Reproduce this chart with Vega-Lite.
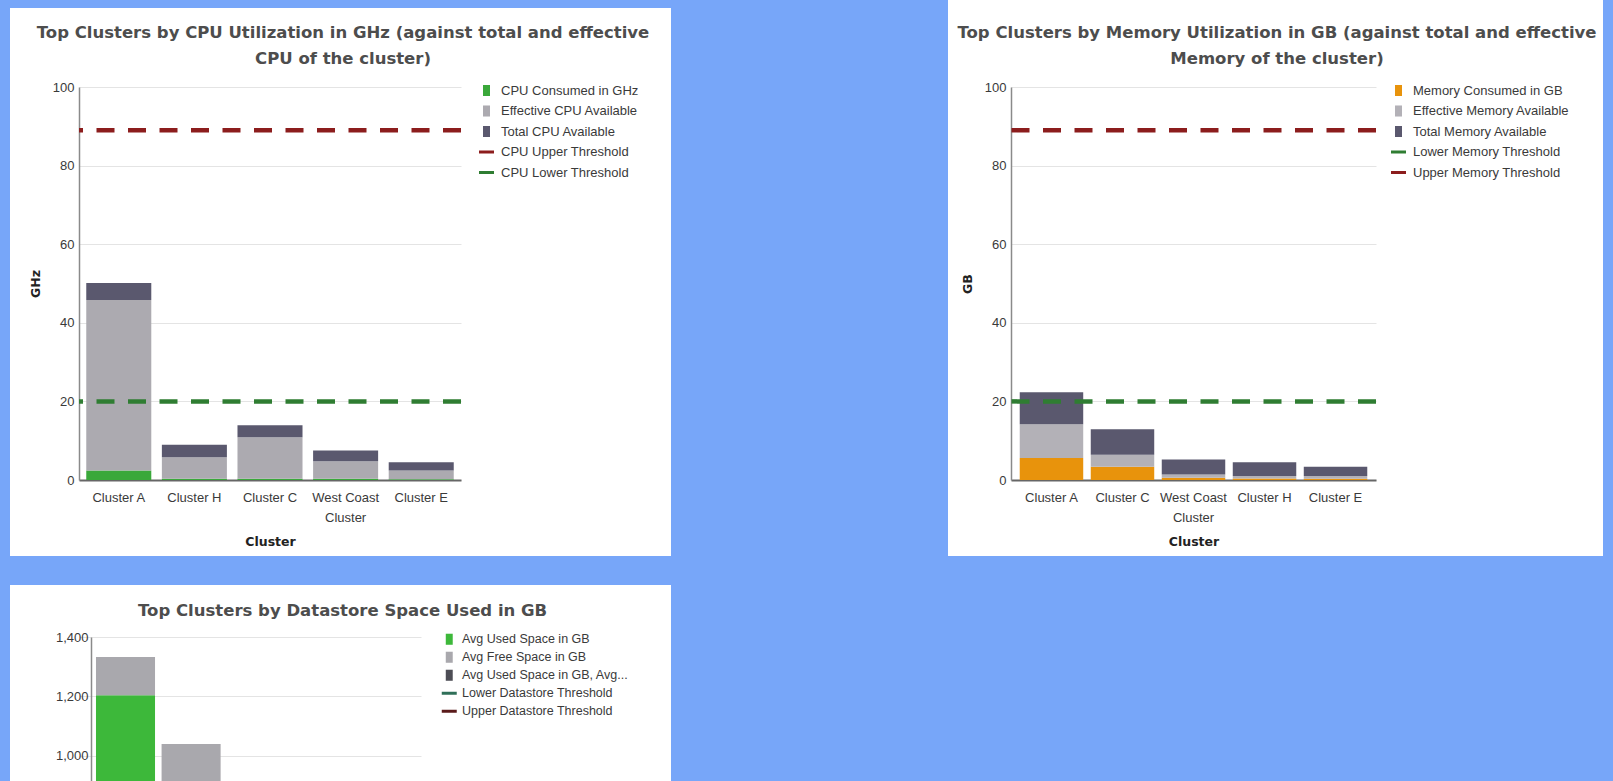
{
  "$schema": "https://vega.github.io/schema/vega-lite/v6.json",
  "padding": 0,
  "background": "white",
  "columns": 9,
  "spacing": 0,
  "bounds": "flush",
  "align": "each",
  "resolve": {
    "scale": {"color": "independent", "x": "independent", "y": "independent"},
    "legend": {"color": "independent"},
    "axis": {"x": "independent", "y": "independent"}
  },
  "datasets": {
    "none": [],
    "cpu": [
      {"cluster": "Cluster A", "series": "CPU Consumed in GHz", "ord": 1, "value": 2.4},
      {"cluster": "Cluster A", "series": "Effective CPU Available", "ord": 2, "value": 43.4},
      {"cluster": "Cluster A", "series": "Total CPU Available", "ord": 3, "value": 4.3},
      {"cluster": "Cluster H", "series": "CPU Consumed in GHz", "ord": 1, "value": 0.3},
      {"cluster": "Cluster H", "series": "Effective CPU Available", "ord": 2, "value": 5.5},
      {"cluster": "Cluster H", "series": "Total CPU Available", "ord": 3, "value": 3.2},
      {"cluster": "Cluster C", "series": "CPU Consumed in GHz", "ord": 1, "value": 0.3},
      {"cluster": "Cluster C", "series": "Effective CPU Available", "ord": 2, "value": 10.6},
      {"cluster": "Cluster C", "series": "Total CPU Available", "ord": 3, "value": 3.0},
      {"cluster": "West Coast Cluster", "series": "CPU Consumed in GHz", "ord": 1, "value": 0.3},
      {"cluster": "West Coast Cluster", "series": "Effective CPU Available", "ord": 2, "value": 4.5},
      {"cluster": "West Coast Cluster", "series": "Total CPU Available", "ord": 3, "value": 2.7},
      {"cluster": "Cluster E", "series": "CPU Consumed in GHz", "ord": 1, "value": 0.2},
      {"cluster": "Cluster E", "series": "Effective CPU Available", "ord": 2, "value": 2.2},
      {"cluster": "Cluster E", "series": "Total CPU Available", "ord": 3, "value": 2.1}
    ],
    "cpu_thr": [
      {"series": "CPU Upper Threshold", "value": 89},
      {"series": "CPU Lower Threshold", "value": 20}
    ],
    "mem": [
      {"cluster": "Cluster A", "series": "Memory Consumed in GB", "ord": 1, "value": 5.6},
      {"cluster": "Cluster A", "series": "Effective Memory Available", "ord": 2, "value": 8.6},
      {"cluster": "Cluster A", "series": "Total Memory Available", "ord": 3, "value": 8.1},
      {"cluster": "Cluster C", "series": "Memory Consumed in GB", "ord": 1, "value": 3.4},
      {"cluster": "Cluster C", "series": "Effective Memory Available", "ord": 2, "value": 3.0},
      {"cluster": "Cluster C", "series": "Total Memory Available", "ord": 3, "value": 6.5},
      {"cluster": "West Coast Cluster", "series": "Memory Consumed in GB", "ord": 1, "value": 0.6},
      {"cluster": "West Coast Cluster", "series": "Effective Memory Available", "ord": 2, "value": 0.8},
      {"cluster": "West Coast Cluster", "series": "Total Memory Available", "ord": 3, "value": 3.8},
      {"cluster": "Cluster H", "series": "Memory Consumed in GB", "ord": 1, "value": 0.4},
      {"cluster": "Cluster H", "series": "Effective Memory Available", "ord": 2, "value": 0.6},
      {"cluster": "Cluster H", "series": "Total Memory Available", "ord": 3, "value": 3.5},
      {"cluster": "Cluster E", "series": "Memory Consumed in GB", "ord": 1, "value": 0.3},
      {"cluster": "Cluster E", "series": "Effective Memory Available", "ord": 2, "value": 0.7},
      {"cluster": "Cluster E", "series": "Total Memory Available", "ord": 3, "value": 2.4}
    ],
    "mem_thr": [
      {"series": "Lower Memory Threshold", "value": 20},
      {"series": "Upper Memory Threshold", "value": 89}
    ],
    "ds": [
      {"cluster": "Cluster A", "series": "Avg Used Space in GB", "ord": 1, "value": 1204},
      {"cluster": "Cluster A", "series": "Avg Free Space in GB", "ord": 2, "value": 129},
      {"cluster": "Cluster C", "series": "Avg Used Space in GB", "ord": 1, "value": 880},
      {"cluster": "Cluster C", "series": "Avg Free Space in GB", "ord": 2, "value": 160}
    ]
  },
  "concat": [
    {"width": 10, "height": 8, "data": {"name": "none"}, "mark": "text", "encoding": {}, "view": {"fill": "#77a6f9"}},
    {"width": 69, "height": 8, "data": {"name": "none"}, "mark": "text", "encoding": {}, "view": {"fill": "#77a6f9"}},
    {"width": 382, "height": 8, "data": {"name": "none"}, "mark": "text", "encoding": {}, "view": {"fill": "#77a6f9"}},
    {"width": 210, "height": 8, "data": {"name": "none"}, "mark": "text", "encoding": {}, "view": {"fill": "#77a6f9"}},
    {"width": 277, "height": 8, "data": {"name": "none"}, "mark": "text", "encoding": {}, "view": {"fill": "#77a6f9"}},
    {"width": 63, "height": 8, "data": {"name": "none"}, "mark": "text", "encoding": {}},
    {"width": 365, "height": 8, "data": {"name": "none"}, "mark": "text", "encoding": {}},
    {"width": 227, "height": 8, "data": {"name": "none"}, "mark": "text", "encoding": {}},
    {"width": 10, "height": 8, "data": {"name": "none"}, "mark": "text", "encoding": {}, "view": {"fill": "#77a6f9"}},

    {"width": 10, "height": 79, "data": {"name": "none"}, "mark": "text", "encoding": {}, "view": {"fill": "#77a6f9"}},
    {"width": 69, "height": 79, "data": {"name": "none"}, "mark": "text", "encoding": {}},
    {"width": 382, "height": 79, "data": {"name": "none"}, "mark": "text", "encoding": {}},
    {"width": 210, "height": 79, "data": {"name": "none"}, "mark": "text", "encoding": {}},
    {"width": 277, "height": 79, "data": {"name": "none"}, "mark": "text", "encoding": {}, "view": {"fill": "#77a6f9"}},
    {"width": 63, "height": 79, "data": {"name": "none"}, "mark": "text", "encoding": {}},
    {"width": 365, "height": 79, "data": {"name": "none"}, "mark": "text", "encoding": {}},
    {"width": 227, "height": 79, "data": {"name": "none"}, "mark": "text", "encoding": {}},
    {"width": 10, "height": 79, "data": {"name": "none"}, "mark": "text", "encoding": {}, "view": {"fill": "#77a6f9"}},

    {"width": 10, "height": 393, "data": {"name": "none"}, "mark": "text", "encoding": {}, "view": {"fill": "#77a6f9"}},
    {"width": 69, "height": 393, "data": {"name": "none"}, "mark": "text", "encoding": {}},
    {
      "width": 382, "height": 393,
      "title": {"text": ["Top Clusters by CPU Utilization in GHz (against total and effective", "CPU of the cluster)"], "frame": "group", "dx": 73, "offset": 14},
      "encoding": {
        "color": {
          "field": "series", "type": "nominal",
          "scale": {"domain": ["CPU Consumed in GHz", "Effective CPU Available", "Total CPU Available", "CPU Upper Threshold", "CPU Lower Threshold"],
                    "range": ["#3aa83a", "#acaab0", "#5a586e", "#8c1d1d", "#2f7d32"]},
          "legend": {
            "title": null, "orient": "none", "legendX": 401, "legendY": -3, "padding": 0,
            "labelOffset": 8, "rowPadding": 6.5, "symbolSize": 144, "labelLimit": 300,
            "encode": {"symbols": {"update": {
              "shape": {"signal": "indexof(datum.value, 'Threshold') >= 0 ? 'M-1.25,-0.25H1.25V0.25H-1.25Z' : 'M-0.58,-0.92H0.58V0.92H-0.58Z'"},
              "fill": {"signal": "datum.value === 'CPU Consumed in GHz' ? '#3a9c3a' : datum.value === 'Effective CPU Available' ? '#b3b3b3' : datum.value === 'Total CPU Available' ? '#4e4c60' : datum.value === 'CPU Upper Threshold' ? '#7a1a1a' : '#2f7d32'"},
              "stroke": {"value": "transparent"}, "strokeWidth": {"value": 0}, "opacity": {"value": 1}
            }}}
          }
        }
      },
      "layer": [
        {
          "data": {"name": "cpu"},
          "mark": {"type": "bar"},
          "encoding": {
            "x": {"field": "cluster", "type": "nominal",
                  "sort": ["Cluster A", "Cluster H", "Cluster C", "West Coast Cluster", "Cluster E"],
                  "scale": {"paddingInner": 0.14, "paddingOuter": 0.096},
                  "axis": {"title": "Cluster", "labelAngle": 0, "labelPadding": 11, "labelLineHeight": 20,
                           "labelExpr": "datum.label === 'West Coast Cluster' ? ['West Coast', 'Cluster'] : datum.label",
                           "domainColor": "#666666", "domainWidth": 2, "titlePadding": 11}},
            "y": {"field": "value", "type": "quantitative", "stack": "zero", "title": "GHz",
                  "scale": {"domain": [0, 100], "nice": false},
                  "axis": {"values": [0, 20, 40, 60, 80, 100], "titlePadding": 10, "labelPadding": 5}},
            "order": {"field": "ord", "type": "quantitative"}
          }
        },
        {
          "data": {"name": "cpu_thr"},
          "mark": {"type": "rule", "strokeDash": [18, 13.5], "strokeWidth": 4.5},
          "encoding": {
            "y": {"field": "value", "type": "quantitative", "title": "GHz",
                  "scale": {"domain": [0, 100], "nice": false},
                  "axis": {"values": [0, 20, 40, 60, 80, 100], "titlePadding": 10, "labelPadding": 5}}
          }
        }
      ]
    },
    {"width": 210, "height": 393, "data": {"name": "none"}, "mark": "text", "encoding": {}},
    {"width": 277, "height": 393, "data": {"name": "none"}, "mark": "text", "encoding": {}, "view": {"fill": "#77a6f9"}},
    {"width": 63, "height": 393, "data": {"name": "none"}, "mark": "text", "encoding": {}},
    {
      "width": 365, "height": 393,
      "title": {"text": ["Top Clusters by Memory Utilization in GB (against total and effective", "Memory of the cluster)"], "frame": "group", "dx": 83.5, "offset": 14},
      "encoding": {
        "color": {
          "field": "series", "type": "nominal",
          "scale": {"domain": ["Memory Consumed in GB", "Effective Memory Available", "Total Memory Available", "Lower Memory Threshold", "Upper Memory Threshold"],
                    "range": ["#e8930c", "#b3b1b7", "#5a586e", "#2f7d32", "#8c1d1d"]},
          "legend": {
            "title": null, "orient": "none", "legendX": 381, "legendY": -3, "padding": 0,
            "labelOffset": 8, "rowPadding": 6.5, "symbolSize": 144, "labelLimit": 300,
            "encode": {"symbols": {"update": {
              "shape": {"signal": "indexof(datum.value, 'Threshold') >= 0 ? 'M-1.25,-0.25H1.25V0.25H-1.25Z' : 'M-0.58,-0.92H0.58V0.92H-0.58Z'"},
              "fill": {"signal": "datum.value === 'Memory Consumed in GB' ? '#d99a1a' : datum.value === 'Effective Memory Available' ? '#b3b3b3' : datum.value === 'Total Memory Available' ? '#3e3e50' : datum.value === 'Lower Memory Threshold' ? '#2f6f3a' : '#7a1a1a'"},
              "stroke": {"value": "transparent"}, "strokeWidth": {"value": 0}, "opacity": {"value": 1}
            }}}
          }
        }
      },
      "layer": [
        {
          "data": {"name": "mem"},
          "mark": {"type": "bar"},
          "encoding": {
            "x": {"field": "cluster", "type": "nominal",
                  "sort": ["Cluster A", "Cluster C", "West Coast Cluster", "Cluster H", "Cluster E"],
                  "scale": {"paddingInner": 0.106, "paddingOuter": 0.123},
                  "axis": {"title": "Cluster", "labelAngle": 0, "labelPadding": 11, "labelLineHeight": 20,
                           "labelExpr": "datum.label === 'West Coast Cluster' ? ['West Coast', 'Cluster'] : datum.label",
                           "domainColor": "#666666", "domainWidth": 2, "titlePadding": 11}},
            "y": {"field": "value", "type": "quantitative", "stack": "zero", "title": "GB",
                  "scale": {"domain": [0, 100], "nice": false},
                  "axis": {"values": [0, 20, 40, 60, 80, 100], "titlePadding": 10, "labelPadding": 5}},
            "order": {"field": "ord", "type": "quantitative"}
          }
        },
        {
          "data": {"name": "mem_thr"},
          "mark": {"type": "rule", "strokeDash": [18, 13.5], "strokeWidth": 4.5},
          "encoding": {
            "y": {"field": "value", "type": "quantitative", "title": "GB",
                  "scale": {"domain": [0, 100], "nice": false},
                  "axis": {"values": [0, 20, 40, 60, 80, 100], "titlePadding": 10, "labelPadding": 5}}
          }
        }
      ]
    },
    {"width": 227, "height": 393, "data": {"name": "none"}, "mark": "text", "encoding": {}},
    {"width": 10, "height": 393, "data": {"name": "none"}, "mark": "text", "encoding": {}, "view": {"fill": "#77a6f9"}},

    {"width": 10, "height": 76, "data": {"name": "none"}, "mark": "text", "encoding": {}, "view": {"fill": "#77a6f9"}},
    {"width": 69, "height": 76, "data": {"name": "none"}, "mark": "text", "encoding": {}},
    {"width": 382, "height": 76, "data": {"name": "none"}, "mark": "text", "encoding": {}},
    {"width": 210, "height": 76, "data": {"name": "none"}, "mark": "text", "encoding": {}},
    {"width": 277, "height": 76, "data": {"name": "none"}, "mark": "text", "encoding": {}, "view": {"fill": "#77a6f9"}},
    {"width": 63, "height": 76, "data": {"name": "none"}, "mark": "text", "encoding": {}},
    {"width": 365, "height": 76, "data": {"name": "none"}, "mark": "text", "encoding": {}},
    {"width": 227, "height": 76, "data": {"name": "none"}, "mark": "text", "encoding": {}},
    {"width": 10, "height": 76, "data": {"name": "none"}, "mark": "text", "encoding": {}, "view": {"fill": "#77a6f9"}},

    {"width": 10, "height": 29, "data": {"name": "none"}, "mark": "text", "encoding": {}, "view": {"fill": "#77a6f9"}},
    {"width": 69, "height": 29, "data": {"name": "none"}, "mark": "text", "encoding": {}, "view": {"fill": "#77a6f9"}},
    {"width": 382, "height": 29, "data": {"name": "none"}, "mark": "text", "encoding": {}, "view": {"fill": "#77a6f9"}},
    {"width": 210, "height": 29, "data": {"name": "none"}, "mark": "text", "encoding": {}, "view": {"fill": "#77a6f9"}},
    {"width": 277, "height": 29, "data": {"name": "none"}, "mark": "text", "encoding": {}, "view": {"fill": "#77a6f9"}},
    {"width": 63, "height": 29, "data": {"name": "none"}, "mark": "text", "encoding": {}, "view": {"fill": "#77a6f9"}},
    {"width": 365, "height": 29, "data": {"name": "none"}, "mark": "text", "encoding": {}, "view": {"fill": "#77a6f9"}},
    {"width": 227, "height": 29, "data": {"name": "none"}, "mark": "text", "encoding": {}, "view": {"fill": "#77a6f9"}},
    {"width": 10, "height": 29, "data": {"name": "none"}, "mark": "text", "encoding": {}, "view": {"fill": "#77a6f9"}},

    {"width": 10, "height": 52, "data": {"name": "none"}, "mark": "text", "encoding": {}, "view": {"fill": "#77a6f9"}},
    {"width": 69, "height": 52, "data": {"name": "none"}, "mark": "text", "encoding": {}},
    {"width": 382, "height": 52, "data": {"name": "none"}, "mark": "text", "encoding": {}},
    {"width": 210, "height": 52, "data": {"name": "none"}, "mark": "text", "encoding": {}},
    {"width": 277, "height": 52, "data": {"name": "none"}, "mark": "text", "encoding": {}, "view": {"fill": "#77a6f9"}},
    {"width": 63, "height": 52, "data": {"name": "none"}, "mark": "text", "encoding": {}, "view": {"fill": "#77a6f9"}},
    {"width": 365, "height": 52, "data": {"name": "none"}, "mark": "text", "encoding": {}, "view": {"fill": "#77a6f9"}},
    {"width": 227, "height": 52, "data": {"name": "none"}, "mark": "text", "encoding": {}, "view": {"fill": "#77a6f9"}},
    {"width": 10, "height": 52, "data": {"name": "none"}, "mark": "text", "encoding": {}, "view": {"fill": "#77a6f9"}},

    {"width": 10, "height": 144, "data": {"name": "none"}, "mark": "text", "encoding": {}, "view": {"fill": "#77a6f9"}},
    {"width": 69, "height": 144, "data": {"name": "none"}, "mark": "text", "encoding": {}},
    {
      "width": 342, "height": 144,
      "title": {"text": "Top Clusters by Datastore Space Used in GB", "frame": "group", "dx": 92.6, "offset": 12},
      "data": {"name": "ds"},
      "mark": {"type": "bar", "clip": true},
      "encoding": {
        "x": {"field": "cluster", "type": "nominal",
              "scale": {"domain": ["Cluster A", "Cluster C", "West Coast Cluster", "Cluster H", "Cluster E"], "paddingInner": 0.1, "paddingOuter": 0.157, "align": 0.825},
              "axis": null},
        "y": {"field": "value", "type": "quantitative", "stack": "zero",
              "scale": {"domain": [915, 1400], "nice": false, "zero": false},
              "axis": {"values": [1000, 1200, 1400], "labelExpr": "format(datum.value, ',')", "title": null, "labelPadding": 3, "offset": -12}},
        "order": {"field": "ord", "type": "quantitative"},
        "color": {
          "field": "series", "type": "nominal",
          "scale": {"domain": ["Avg Used Space in GB", "Avg Free Space in GB", "Avg Used Space in GB, Avg...", "Lower Datastore Threshold", "Upper Datastore Threshold"],
                    "range": ["#3db83a", "#a9a8ad", "#4d4d55", "#2f6f58", "#5a1a1a"]},
          "legend": {
            "title": null, "orient": "none", "legendX": 364, "legendY": -4, "padding": 0,
            "labelOffset": 6.5, "rowPadding": 5, "symbolSize": 144, "labelLimit": 300, "labelFontSize": 12.5,
            "encode": {"symbols": {"update": {
              "shape": {"signal": "indexof(datum.value, 'Threshold') >= 0 ? 'M-1.25,-0.25H1.25V0.25H-1.25Z' : 'M-0.58,-0.92H0.58V0.92H-0.58Z'"},
              "fill": {"signal": "datum.value === 'Avg Used Space in GB' ? '#3a9c3a' : datum.value === 'Avg Free Space in GB' ? '#b3b3b3' : datum.value === 'Avg Used Space in GB, Avg...' ? '#454550' : datum.value === 'Lower Datastore Threshold' ? '#2f6f58' : '#5a1a1a'"},
              "stroke": {"value": "transparent"}, "strokeWidth": {"value": 0}, "opacity": {"value": 1}
            }}}
          }
        }
      }
    },
    {"width": 210, "height": 144, "data": {"name": "none"}, "mark": "text", "encoding": {}},
    {"width": 277, "height": 144, "data": {"name": "none"}, "mark": "text", "encoding": {}, "view": {"fill": "#77a6f9"}},
    {"width": 63, "height": 144, "data": {"name": "none"}, "mark": "text", "encoding": {}, "view": {"fill": "#77a6f9"}},
    {"width": 365, "height": 144, "data": {"name": "none"}, "mark": "text", "encoding": {}, "view": {"fill": "#77a6f9"}},
    {"width": 227, "height": 144, "data": {"name": "none"}, "mark": "text", "encoding": {}, "view": {"fill": "#77a6f9"}},
    {"width": 10, "height": 144, "data": {"name": "none"}, "mark": "text", "encoding": {}, "view": {"fill": "#77a6f9"}}
  ],
  "config": {
    "view": {"stroke": null},
    "font": "Liberation Sans",
    "axis": {"labelFont": "Liberation Sans", "labelFontSize": 13, "labelColor": "#3a3a3a",
             "titleFont": "DejaVu Sans", "titleFontSize": 12.5, "titleFontWeight": "bold", "titleColor": "#222222",
             "ticks": false, "gridColor": "#e4e4e4", "domainColor": "#8a8a8a", "domainWidth": 1.5},
    "axisX": {"grid": false},
    "legend": {"labelFont": "Liberation Sans", "labelFontSize": 13, "labelColor": "#3a3a3a"},
    "title": {"font": "DejaVu Sans", "fontSize": 16.5, "fontWeight": "bold", "color": "#4d4d4d", "lineHeight": 26}
  }
}
